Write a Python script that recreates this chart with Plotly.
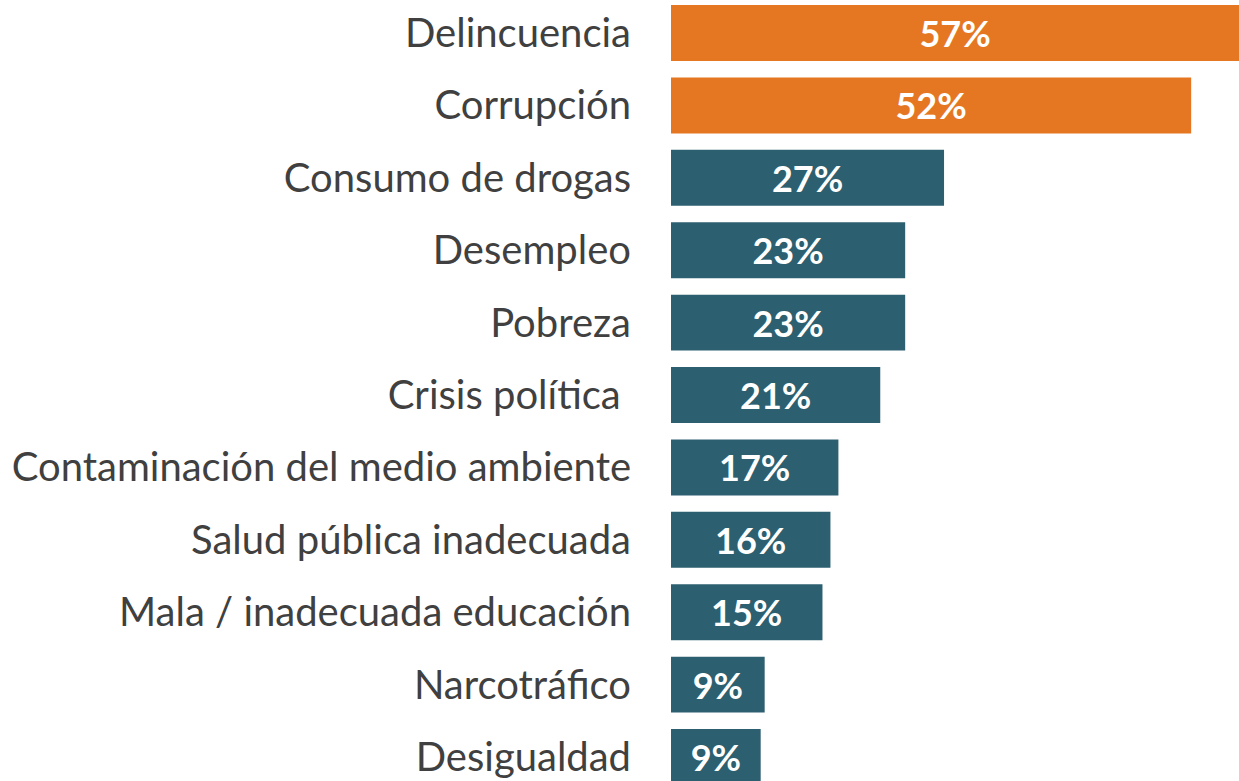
import plotly.graph_objects as go

categories = ["Delincuencia", "Corrupción", "Consumo de drogas", "Desempleo", "Pobreza",
              "Crisis política ", "Contaminación del medio ambiente", "Salud pública inadecuada",
              "Mala / inadecuada educación", "Narcotráfico", "Desigualdad"]
values = [57.0, 52.2, 27.4, 23.5, 23.5, 21.0, 16.8, 16.0, 15.2, 9.4, 9.0]
labels = ["57%", "52%", "27%", "23%", "23%", "21%", "17%", "16%", "15%", "9%", "9%"]
highlight = [True, True, False, False, False, False, False, False, False, False, False]

ORANGE = "#E67722"
TEAL = "#2C5F70"
colors = [ORANGE if h else TEAL for h in highlight]

fig = go.Figure(go.Bar(
    x=values, y=categories, orientation="h",
    marker=dict(color=colors, line=dict(width=0)),
    text=labels, textposition="inside", insidetextanchor="middle",
    constraintext="none",
    textfont=dict(family="Lato", size=36, color="white", weight="bold"),
    hoverinfo="skip",
))

fig.update_layout(
    width=1239, height=781,
    margin=dict(l=671, r=0, t=0, b=0),
    paper_bgcolor="white", plot_bgcolor="white",
    bargap=0.227,
    showlegend=False,
    xaxis=dict(range=[0, 57.0], visible=False, fixedrange=True),
    yaxis=dict(
        type="category", categoryorder="array", categoryarray=categories,
        range=[10.331, -0.456], fixedrange=True,
        showgrid=False, zeroline=False, showline=False, ticks="",
        ticklabelstandoff=39,
        tickfont=dict(family="Lato", size=40, color="#404040"),
    ),
)

fig.write_html("out.html", config={"displayModeBar": False, "staticPlot": True},
               post_script="document.body.style.margin='0';")
